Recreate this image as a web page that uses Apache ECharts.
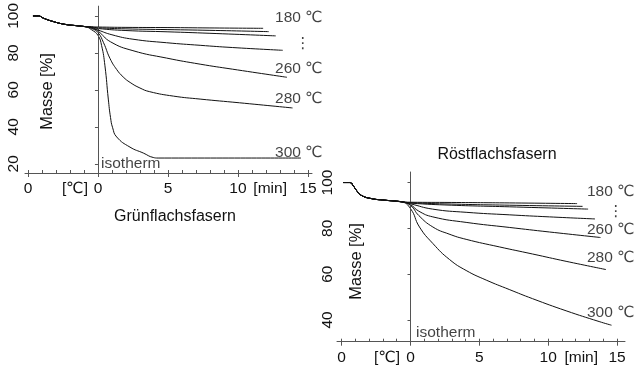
<!DOCTYPE html>
<html><head><meta charset="utf-8">
<script src="https://cdn.jsdelivr.net/npm/echarts@6/dist/echarts.min.js"></script>
<style>html,body{margin:0;padding:0;background:#fff}#c{width:635px;height:368px}</style>
</head><body><div id="c"></div>
<script>
// ---------- DATA (t: heating segment < 0, isotherm minutes >= 0 ; v: Masse %) ----------
const temps = ['180', '200', '220', '240', '260', '280', '300'];

// Grünflachsfasern – common heating segment
const gHeatT = [-4.64, -4.25, -3.9, -3.3, -2.4, -1.5, -0.9];
const gHeatV = [100, 100, 98.8, 97.2, 95.5, 94.7, 94.2];
// Grünflachsfasern – per temperature
const g180 = [[-0.45, 94.1], [0, 94.0], [2, 93.8], [5, 93.7], [8, 93.5], [11.8, 93.3]];
const g200 = [[-0.45, 94.0], [0, 93.6], [2, 93.0], [5, 92.6], [8, 92.2], [12.2, 91.5]];
const g220 = [[-0.45, 93.9], [0, 93.2], [2, 92.1], [5, 91.4], [8, 90.6], [12.7, 89.2]];
const g240 = [[-0.45, 93.7], [0, 92.4], [1, 89.8], [2.5, 87.4], [4.9, 85.5], [7.3, 84.1], [9.6, 82.9], [13.2, 81.4]];
const g260 = [[-0.45, 93.5], [0, 91.8], [0.9, 86.0], [2.5, 81.2], [4.9, 77.2], [7.3, 73.9], [9.6, 71.2], [13.5, 66.8]];
const g280 = [[-0.45, 93.2], [0, 91.0], [0.4, 85.5], [0.86, 77.0], [1.34, 71.0], [1.8, 67.0], [2.3, 64.0], [3.0, 61.0], [3.7, 59.0], [5.4, 56.6], [7.3, 55.0], [10.1, 53.0], [13.9, 50.2]];
const g300 = [[-0.45, 92.5], [0, 89.5], [0.26, 84.0], [0.5, 73.0], [0.74, 55.0], [0.9, 45.0], [1.05, 39.5], [1.34, 34.5], [2.29, 29.0], [3.24, 25.8], [3.95, 23.4], [4.3, 23.1], [14.5, 23.1]];

// Röstflachsfasern – common heating segment
const rHeatT = [-4.9, -4.4, -4.15, -3.93, -3.57, -2.85, -1.88, -0.67];
const rHeatV = [100, 100, 98.5, 96.6, 94.4, 93.0, 92.3, 91.6];
// Röstflachsfasern – per temperature
const r180 = [[0, 91.4], [3, 91.3], [7.17, 91.1], [12.1, 90.8]];
const r200 = [[0, 91.2], [3, 90.6], [7.17, 90.1], [12.5, 89.6]];
const r220 = [[0, 91.0], [3, 90.1], [7.17, 89.4], [12.9, 88.4]];
const r240 = [[0, 90.7], [1.6, 88.4], [4.04, 87.0], [7.17, 85.9], [10.1, 85.0], [13.4, 84.1]];
const r260 = [[0, 90.3], [0.6, 87.5], [1.62, 85.0], [4.04, 82.6], [7.17, 80.4], [10.1, 78.4], [13.8, 76.0]];
const r280 = [[0, 90.0], [0.6, 85.6], [1.62, 80.6], [2.8, 77.5], [4.04, 75.2], [6.45, 71.9], [8.86, 68.8], [11.3, 65.6], [14.2, 62.0]];
const r300 = [[0, 88.6], [0.65, 80.6], [1.62, 73.4], [2.83, 66.4], [4.04, 61.6], [5.5, 57.4], [7.17, 53.3], [8.86, 49.3], [11.3, 44.0], [13.7, 39.3], [14.6, 37.7]];

// tick labels
const xLabelTextG = ['0', '[℃]', '0', '5', '10', '[min]', '15'];
const xLabelPosG = [-5, -1.64, 0, 5, 10, 12.3, 15];
const xLabelTextR = ['0', '[℃]', '0', '5', '10', '[min]', '15'];
const xLabelPosR = [-5, -1.7, 0, 5, 10, 12.4, 15];
const xMajorTicks = [-5, 0, 5, 10, 15];
const yTicksG = [20, 40, 60, 80, 100];
const yTicksR = [40, 60, 80, 100];

// annotation texts (anchored in data coordinates)
const tempLabelsG = [[12.65, 98.8, '180 ℃'], [14.08, 84.9, '⋮'], [12.65, 71.4, '260 ℃'], [12.65, 55.3, '280 ℃'], [12.65, 25.8, '300 ℃']];
const tempLabelsR = [[12.82, 95.9, '180 ℃'], [14.34, 87.1, '⋮'], [12.82, 79.3, '260 ℃'], [12.82, 67.0, '280 ℃'], [12.82, 43.0, '300 ℃']];
const isoLabelG = [0.22, 20.0, 'isotherm'];
const isoLabelR = [0.4, 34.4, 'isotherm'];
const titleG = 'Grünflachsfasern';
const titleR = 'Röstflachsfasern';
const yName = 'Masse [%]';

// ---------- fonts ----------
function hasFont(f) {
  const c = document.createElement('canvas').getContext('2d');
  c.font = '40px monospace'; const a = c.measureText('abcdefgMWi').width;
  c.font = "40px '" + f + "', monospace"; return c.measureText('abcdefgMWi').width !== a;
}
const NARROW = hasFont('Liberation Sans Narrow');
const FF = NARROW ? "'Liberation Sans Narrow', 'Liberation Sans', 'DejaVu Sans', sans-serif" : "'Liberation Sans', 'DejaVu Sans', sans-serif";
const K = NARROW ? 1 : 0.84;
const fs = n => Math.round(n * K * 10) / 10;
const INK = '#111';

function range(a, b) { const r = []; for (let i = a; i <= b; i++) r.push(i); return r; }
function fmt(pos, txt) { return v => { let bi = 0, bd = 1e9; pos.forEach((p, i) => { const d = Math.abs(p - v); if (d < bd) { bd = d; bi = i; } }); return txt[bi]; }; }

function xAxes(grid, min, max, lpos, ltxt) {
  return [{
    gridIndex: grid, type: 'value', min, max, position: 'bottom',
    axisLine: { show: true, lineStyle: { color: '#555', width: 1 } },
    splitLine: { show: false },
    axisTick: { show: true, inside: true, length: 3, customValues: range(-5, 15), lineStyle: { color: '#555' } },
    axisLabel: { customValues: lpos, formatter: fmt(lpos, ltxt), color: INK, fontFamily: FF, fontSize: fs(18.5), margin: 8 }
  }, {
    gridIndex: grid, type: 'value', min, max, position: 'bottom',
    axisLine: { show: false }, splitLine: { show: false },
    axisTick: { show: true, inside: false, length: 4, customValues: xMajorTicks, lineStyle: { color: '#555' } },
    axisLabel: { show: false }
  }];
}
function yAxis(grid, min, max, ticks, margin) {
  return {
    gridIndex: grid, type: 'value', min, max,
    axisLine: { show: true, lineStyle: { color: '#555', width: 1 } },
    splitLine: { show: false },
    axisTick: { show: true, inside: false, length: 3, customValues: ticks, lineStyle: { color: '#555' } },
    axisLabel: { customValues: ticks, rotate: 90, margin, color: INK, fontFamily: FF, fontSize: fs(18.5) }
  };
}
function curves(heatT, heatV, list, xi, yi) {
  return list.map((c, k) => ({
    type: 'line', name: temps[k], xAxisIndex: xi, yAxisIndex: yi,
    data: heatT.map((t, i) => [t, heatV[i]]).concat(c),
    showSymbol: false, smooth: 0.5,
    lineStyle: { color: INK, width: 1 }, silent: true, z: 3
  }));
}
function labelSeries(items, xi, yi, size) {
  return {
    type: 'scatter', xAxisIndex: xi, yAxisIndex: yi, symbolSize: 0, silent: true,
    data: items.map(d => ({ value: [d[0], d[1]], label: { formatter: d[2] } })),
    label: { show: true, position: 'right', distance: 0, color: INK, fontFamily: FF, fontSize: size }
  };
}
function isoLine(xi, yi) {
  return {
    type: 'line', xAxisIndex: xi, yAxisIndex: yi, data: [], silent: true,
    markLine: { symbol: 'none', silent: true, label: { show: false },
      lineStyle: { color: '#555', type: [2, 2], width: 1 }, data: [{ xAxis: 0 }] }
  };
}

const option = {
  backgroundColor: '#fff',
  animation: false,
  grid: [
    { left: 25, top: 5, width: 287, height: 168 },
    { left: 337, top: 172, width: 288, height: 169.7 }
  ],
  xAxis: xAxes(0, -5.21, 15.29, xLabelPosG, xLabelTextG).concat(xAxes(1, -5.34, 15.58, xLabelPosR, xLabelTextR)),
  yAxis: [yAxis(0, 15, 105.3, yTicksG, 3), yAxis(1, 30.5, 104.6, yTicksR, 1)],
  graphic: [
    { type: 'text', x: 175, y: 217, style: { text: titleG, fill: INK, font: fs(19) + 'px ' + FF, textAlign: 'center', textVerticalAlign: 'middle' } },
    { type: 'text', x: 497, y: 155, style: { text: titleR, fill: INK, font: fs(19) + 'px ' + FF, textAlign: 'center', textVerticalAlign: 'middle' } },
    { type: 'text', x: 47, y: 91.5, rotation: Math.PI / 2, style: { text: yName, fill: INK, font: fs(19.5) + 'px ' + FF, textAlign: 'center', textVerticalAlign: 'middle' } },
    { type: 'text', x: 356, y: 261.5, rotation: Math.PI / 2, style: { text: yName, fill: INK, font: fs(19.5) + 'px ' + FF, textAlign: 'center', textVerticalAlign: 'middle' } }
  ],
  series: [].concat(
    curves(gHeatT, gHeatV, [g180, g200, g220, g240, g260, g280, g300], 0, 0),
    curves(rHeatT, rHeatV, [r180, r200, r220, r240, r260, r280, r300], 2, 1),
    [isoLine(0, 0), isoLine(2, 1),
     labelSeries(tempLabelsG, 0, 0, fs(18.5)), labelSeries(tempLabelsR, 2, 1, fs(18.5)),
     labelSeries([isoLabelG], 0, 0, fs(18.5)), labelSeries([isoLabelR], 2, 1, fs(18.5))]
  )
};
const chart = echarts.init(document.getElementById('c'), null, { renderer: 'canvas' });
chart.setOption(option);
</script>
</body></html>
